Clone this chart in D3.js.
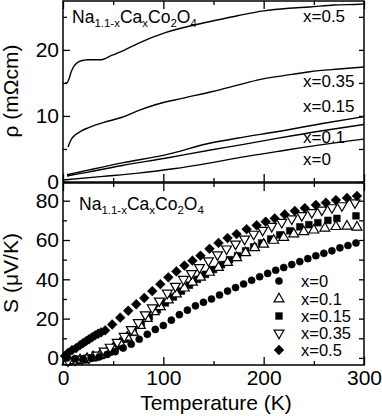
<!DOCTYPE html>
<html>
<head>
<meta charset="utf-8">
<script src="https://cdn.jsdelivr.net/npm/d3@7/dist/d3.min.js"></script>
<style>
  body { margin: 0; background: #fff; }
  svg { display: block; font-family: "Liberation Sans", Arial, Helvetica, sans-serif; }
  .tick text { font-size: 21px; fill: #000; }
  .tick line { stroke: #000; stroke-width: 1.3; }
</style>
</head>
<body>
<svg width="382" height="416"></svg>
<script>
// ---- resistivity (top panel), mOhm cm ----
var rhoT05  = [2, 4, 6, 8, 10, 13, 17, 21, 25, 30, 37, 49, 59, 75, 102, 132, 147, 175, 200, 225, 246, 270, 296, 300];
var rho05   = [15.0, 15.0, 15.6, 16.6, 17.3, 17.9, 18.3, 18.45, 18.5, 18.5, 18.5, 19.2, 19.8, 21.0, 22.6, 23.8, 24.3, 25.2, 25.9, 26.3, 26.5, 26.8, 26.9, 27.0];
var rhoT035 = [5, 8, 12, 18, 25, 40, 59, 75, 92, 120, 149, 175, 196, 220, 246, 275, 300];
var rho035  = [5.3, 6.4, 7.1, 7.7, 8.2, 9.0, 9.8, 10.8, 11.7, 12.7, 13.7, 14.7, 15.5, 16.1, 16.7, 17.1, 17.4];
var rhoT015 = [4, 10, 25, 59, 102, 147, 180, 213, 260, 300];
var rho015  = [1.1, 1.3, 1.8, 2.9, 4.1, 5.9, 6.8, 7.6, 8.9, 9.9];
var rhoT01  = [4, 10, 25, 59, 102, 147, 180, 213, 260, 300];
var rho01   = [0.9, 1.1, 1.5, 2.5, 3.6, 4.85, 5.7, 6.6, 7.8, 8.7];
var rhoT0   = [0, 40, 75, 110, 147, 180, 213, 260, 300];
var rho0    = [0.3, 0.85, 1.35, 2.0, 2.9, 3.8, 4.6, 5.7, 6.5];
var rhoLabels = ["x=0.5", "x=0.35", "x=0.15", "x=0.1", "x=0"];

// ---- thermopower (bottom panel), uV/K ----
var sT0   = [4, 12, 20, 28, 36, 44, 52, 60, 68, 76, 84, 92, 100, 108, 116, 124, 132, 140, 148, 156, 164, 172, 180, 188, 196, 204, 212, 220, 228, 236, 244, 252, 260, 268, 276, 284, 292];
var s0    = [0, -0.5, -0.5, 0, 0.5, 1.8, 3.2, 5, 7, 9.5, 12, 14.5, 16.5, 19.2, 22, 24.3, 26.5, 28.3, 30, 32, 34, 35.8, 37.6, 39.5, 41.3, 43, 44.6, 46, 47.5, 49, 50.5, 52, 53.2, 54.5, 56, 57.2, 58.5];
var sT01  = [4, 11, 17, 24, 30, 37, 44, 50, 57, 64, 70, 77, 84, 91, 97, 105, 113, 121, 129, 137, 146, 155, 164, 173, 182, 191, 200, 210, 220, 230, 240, 250, 261, 272, 283, 293];
var s01   = [-2, -1.5, -1, -0.3, 0.5, 1.5, 3, 5, 7.5, 10.5, 13, 16.5, 20, 23.5, 26, 29.5, 32.5, 35.5, 38.5, 41, 43.5, 46, 48.5, 51, 53.5, 56, 57.8, 59.8, 61.3, 63, 64.2, 65, 66, 66.8, 67, 66.5];
var sT015 = [6, 14, 22, 30, 38, 46, 54, 62, 70, 78, 86, 94, 102, 110, 118, 126, 134, 142, 150, 158, 166, 174, 182, 190, 198, 207, 216, 226, 236, 245, 254, 264, 273, 292];
var s015  = [-2, -1.5, -1, 0, 1.2, 3, 6, 9.5, 13, 17, 21, 24.5, 28, 31, 34, 37, 40, 42.5, 45, 47.5, 50, 52, 54.5, 56.5, 58.5, 60.5, 62.6, 64.7, 66.7, 67.8, 68.8, 70, 71, 72.3];
var sT035 = [5, 12, 19, 26, 34, 41, 47, 54, 61, 68, 75, 82, 89, 96, 104, 112, 120, 128, 136, 145, 154, 163, 172, 181, 190, 199, 208, 218, 228, 238, 248, 258, 268, 278, 291];
var s035  = [-1.5, -1, -0.5, 0, 1.5, 3.5, 5.5, 8, 11, 14.5, 18, 22, 25.5, 29, 33, 36.5, 40, 43, 46, 49.5, 52.5, 55.5, 58, 60.5, 63, 65, 67, 69, 70.8, 72.5, 74, 75.3, 76.5, 77.5, 79];
var sT05  = [2, 5, 9, 13, 17, 20, 23, 26, 29, 32, 35, 38, 42, 49, 57, 65, 73, 81, 89, 97, 105, 113, 121, 129, 137, 146, 155, 164, 173, 183, 193, 202, 211, 221, 231, 241, 252, 262, 272, 283, 293];
var s05   = [1, 2.5, 4, 5, 6.5, 7.5, 8.5, 9.5, 10.5, 11.5, 12.3, 13, 14, 17, 20.5, 24, 27.3, 30.5, 34, 37.5, 41, 44, 47, 49.5, 52, 55.5, 58.5, 61, 63, 65.5, 67.5, 69.3, 71, 73, 74.8, 76.2, 77.8, 79, 80.3, 81.4, 82.4];
var sLabels = ["x=0", "x=0.1", "x=0.15", "x=0.35", "x=0.5"];

var xTicks = [0, 100, 200, 300];
var xMinor = [50, 150, 250];
var rhoTicks = [0, 10, 20];
var rhoMinor = [5, 15, 25];
var sTicks = [0, 20, 40, 60, 80];
var sMinor = [10, 30, 50, 70];

var svg = d3.select("svg");
var left = 63, right = 364;

var x = d3.scaleLinear().domain([0, 300]).range([left, right]);
var yr = d3.scaleLinear().domain([0, 27.4]).range([182, 1]);
var ys = d3.scaleLinear().domain([-3.6, 89]).range([365, 183]);

function zip(t, v) {
    return t.map(function (d, i) { return { t: d, v: v[i] }; });
}

function frame(y) {
    var r = y.range();
    svg.append("rect")
        .attr("x", left).attr("y", r[1])
        .attr("width", right - left).attr("height", r[0] - r[1])
        .attr("fill", "none").attr("stroke", "#000").attr("stroke-width", 1.5);
}

function axes(y, major, minor, labels) {
    var r = y.range();
    var g = svg.append("g").attr("class", "axes");
    // left
    g.append("g").attr("transform", "translate(" + left + ",0)")
        .call(d3.axisLeft(y).tickValues(minor).tickSize(-4).tickFormat(""));
    g.append("g").attr("transform", "translate(" + left + ",0)")
        .call(d3.axisLeft(y).tickValues(major).tickSize(-7).tickPadding(4).tickFormat(d3.format("d")));
    // right
    g.append("g").attr("transform", "translate(" + right + ",0)")
        .call(d3.axisRight(y).tickValues(minor.concat(major)).tickSize(-5).tickFormat(""));
    // top and bottom
    g.append("g").attr("transform", "translate(0," + r[1] + ")")
        .call(d3.axisTop(x).tickValues(xMinor).tickSize(-4).tickFormat(""));
    g.append("g").attr("transform", "translate(0," + r[1] + ")")
        .call(d3.axisTop(x).tickValues(xTicks).tickSize(-8).tickFormat(""));
    g.append("g").attr("transform", "translate(0," + r[0] + ")")
        .call(d3.axisBottom(x).tickValues(xMinor).tickSize(-4).tickFormat(""));
    g.append("g").attr("transform", "translate(0," + r[0] + ")")
        .call(d3.axisBottom(x).tickValues(xTicks).tickSize(-8).tickPadding(5)
            .tickFormat(labels ? d3.format("d") : ""));
    g.selectAll(".domain").remove();
    g.selectAll("g").attr("font-family", null).attr("font-size", null);
}

function title(xp, yp) {
    var t = svg.append("text").attr("x", xp).attr("y", yp)
        .attr("font-size", 17.5).attr("fill", "#000");
    var parts = [["Na", 0], ["1.1-x", 1], ["Ca", 0], ["x", 1], ["Co", 0], ["2", 1], ["O", 0], ["4", 1]];
    parts.forEach(function (p) {
        t.append("tspan").text(p[0])
            .attr("font-size", p[1] ? 11.5 : 17.5)
            .attr("dy", p[1] ? 4 : -4);
    });
    t.select("tspan").attr("dy", 0);
}

// ---- top panel ----
var line = d3.line()
    .x(function (d) { return x(d.t); })
    .y(function (d) { return yr(d.v); })
    .curve(d3.curveMonotoneX);

var curves = [zip(rhoT05, rho05), zip(rhoT035, rho035), zip(rhoT015, rho015), zip(rhoT01, rho01), zip(rhoT0, rho0)];
svg.append("g").selectAll("path")
    .data(curves)
    .enter().append("path")
    .attr("d", line)
    .attr("fill", "none")
    .attr("stroke", "#000")
    .attr("stroke-width", 1.4);

var rhoLabelY = [22, 87, 112, 143, 165];
svg.append("g").selectAll("text")
    .data(rhoLabels)
    .enter().append("text")
    .attr("x", 303)
    .attr("y", function (d, i) { return rhoLabelY[i]; })
    .attr("font-size", 17)
    .text(function (d) { return d; });

// ---- bottom panel ----
var series = [
    { data: zip(sT015, s015), type: d3.symbolSquare, size: 46, fill: "#000", rot: 0, key: 2 },
    { data: zip(sT01, s01), type: d3.symbolTriangle, size: 42, fill: "#fff", rot: 0, key: 1 },
    { data: zip(sT035, s035), type: d3.symbolTriangle, size: 42, fill: "#fff", rot: 180, key: 3 },
    { data: zip(sT05, s05), type: d3.symbolSquare, size: 48, fill: "#000", rot: 45, key: 4 },
    { data: zip(sT0, s0), type: d3.symbolCircle, size: 40, fill: "#000", rot: 0, key: 0 }
];

series.forEach(function (s) {
    var sym = d3.symbol().type(s.type).size(s.size);
    svg.append("g").selectAll("path")
        .data(s.data)
        .enter().append("path")
        .attr("d", sym)
        .attr("transform", function (d) {
            return "translate(" + x(d.t) + "," + ys(d.v) + ") rotate(" + s.rot + ")";
        })
        .attr("fill", s.fill)
        .attr("stroke", "#000")
        .attr("stroke-width", s.fill == "#fff" ? 1.2 : 0.5);
});

// legend
var legY = [287, 305, 322, 339, 356];
series.forEach(function (s) {
    svg.append("path")
        .attr("d", d3.symbol().type(s.type).size(s.size))
        .attr("transform", "translate(279," + (legY[s.key] - 6) + ") rotate(" + s.rot + ")")
        .attr("fill", s.fill)
        .attr("stroke", "#000")
        .attr("stroke-width", s.fill == "#fff" ? 1.2 : 0.5);
});
svg.append("g").selectAll("text")
    .data(sLabels)
    .enter().append("text")
    .attr("x", 301)
    .attr("y", function (d, i) { return legY[i]; })
    .attr("font-size", 16.5)
    .text(function (d) { return d; });

frame(yr);
frame(ys);
axes(yr, rhoTicks, rhoMinor, false);
axes(ys, sTicks, sMinor, true);

title(72, 23);
title(79, 210);

svg.append("text")
    .attr("transform", "translate(18,91) rotate(-90)")
    .attr("text-anchor", "middle")
    .attr("font-size", 21)
    .text("ρ (mΩcm)");
svg.append("text")
    .attr("transform", "translate(18,273) rotate(-90)")
    .attr("text-anchor", "middle")
    .attr("font-size", 21)
    .text("S (μV/K)");
svg.append("text")
    .attr("x", 216).attr("y", 410)
    .attr("text-anchor", "middle")
    .attr("font-size", 21)
    .text("Temperature (K)");
</script>
</body>
</html>
